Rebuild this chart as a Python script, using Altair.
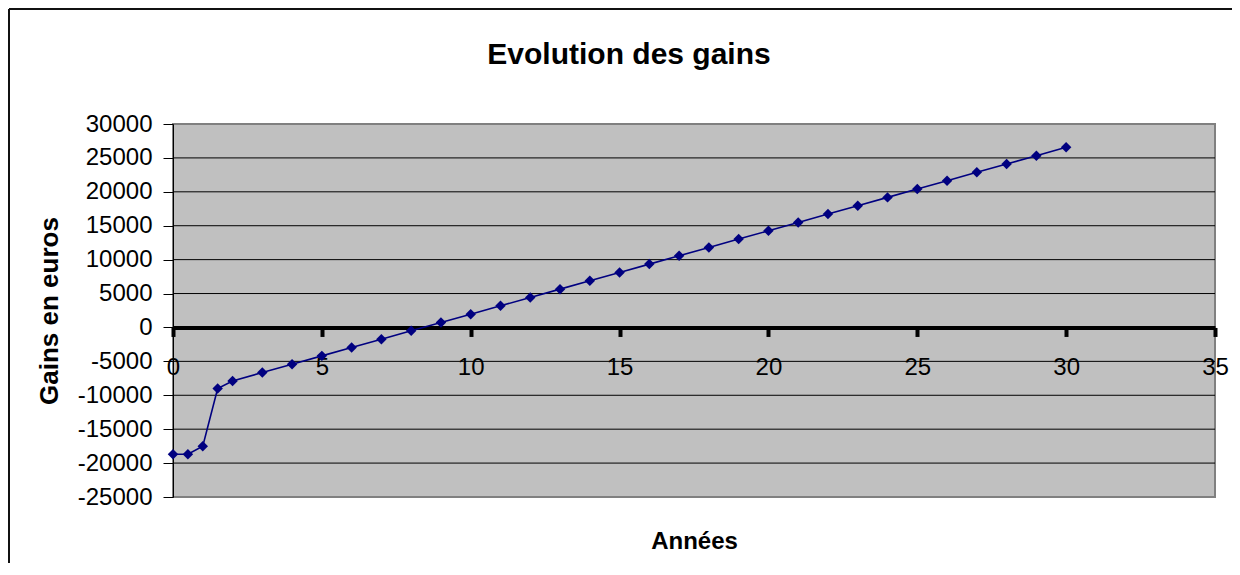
import altair as alt
import pandas as pd

# Data
years = [0, 0.5, 1, 1.5, 2, 3, 4, 5, 6, 7, 8, 9, 10, 11, 12, 13, 14, 15,
         16, 17, 18, 19, 20, 21, 22, 23, 24, 25, 26, 27, 28, 29, 30]
gains = [-18700, -18700, -17500, -9000, -7900, -6650, -5420, -4190, -2960,
         -1730, -500, 730, 1960, 3190, 4420, 5650, 6880, 8110, 9340, 10570,
         11800, 13030, 14260, 15490, 16720, 17950, 19180, 20410, 21640,
         22870, 24100, 25330, 26560]
x_ticks = [0, 5, 10, 15, 20, 25, 30, 35]
y_ticks = [-25000, -20000, -15000, -10000, -5000, 0, 5000, 10000, 15000,
           20000, 25000, 30000]
grid_values = y_ticks[1:-1]

FONT = "Liberation Sans"
W, H = 1042, 373
Y_MIN, Y_MAX = -25000, 30000
zero_offset = -H * (0 - Y_MIN) / (Y_MAX - Y_MIN)

df = pd.DataFrame({"year": years, "gain": gains})
grid_df = pd.DataFrame({"g": grid_values})

x_enc = alt.X(
    "year:Q",
    scale=alt.Scale(domain=[0, 35], nice=False, zero=False),
    axis=alt.Axis(
        values=x_ticks, tickCount=len(x_ticks), offset=zero_offset,
        labelExpr="'' + datum.value",
        domainColor="black", domainWidth=4, tickColor="black", tickWidth=4,
        tickSize=9, labelPadding=19, labelFont=FONT, labelFontSize=24,
        labelColor="black", labelFlush=False, labelOverlap=False, grid=False,
        title="Années", titleFont=FONT, titleFontSize=24, titleFontWeight="bold",
        titleColor="black", titleBaseline="alphabetic", titleY=221, titleX=W / 2,
    ),
)
y_enc = alt.Y(
    "gain:Q",
    scale=alt.Scale(domain=[Y_MIN, Y_MAX], nice=False, zero=False),
    axis=alt.Axis(
        values=y_ticks, tickCount=len(y_ticks), labelExpr="'' + datum.value",
        domainColor="black", domainWidth=1, tickColor="black", tickWidth=1,
        tickSize=10, labelPadding=11, labelFont=FONT, labelFontSize=24,
        labelColor="black", labelOverlap=False, grid=False,
        title="Gains en euros", titleFont=FONT, titleFontSize=26,
        titleFontWeight="bold", titleColor="black", titleBaseline="alphabetic",
        titleAngle=270, titleX=-116, titleY=H / 2, titleAlign="center",
    ),
)

grid = alt.Chart(grid_df).mark_rule(color="black", strokeWidth=1).encode(
    y=alt.Y("g:Q", scale=alt.Scale(domain=[Y_MIN, Y_MAX], nice=False, zero=False)))
line = alt.Chart(df).mark_line(color="#000080", strokeWidth=1.6).encode(x=x_enc, y=y_enc)
points = alt.Chart(df).mark_point(
    shape="diamond", filled=True, size=110, color="#000080", opacity=1
).encode(x="year:Q", y="gain:Q")

frame_df = pd.DataFrame({"k": [0]})
frame_top = alt.Chart(frame_df).mark_rule(color="#111111", strokeWidth=2).encode(
    x=alt.value(-164), x2=alt.value(W + 17), y=alt.value(-115))
frame_left = alt.Chart(frame_df).mark_rule(color="#111111", strokeWidth=2).encode(
    x=alt.value(-164), y=alt.value(-115), y2=alt.value(H + 66))

chart = alt.layer(frame_top, frame_left, grid, line, points).properties(
    width=W, height=H,
    background="white",
    title=alt.TitleParams(
        "Evolution des gains", font=FONT, fontSize=30, fontWeight="bold",
        color="black", anchor="middle", dx=-65, offset=0, dy=86,
        baseline="alphabetic",
    ),
    autosize=alt.AutoSizeParams(type="none"),
    padding={"left": 165, "top": 116, "right": 17, "bottom": 66},
).configure_view(
    fill="#C0C0C0", stroke="#808080", strokeWidth=2
)

chart.save("out.html", embed_options={"renderer": "svg", "actions": False})
